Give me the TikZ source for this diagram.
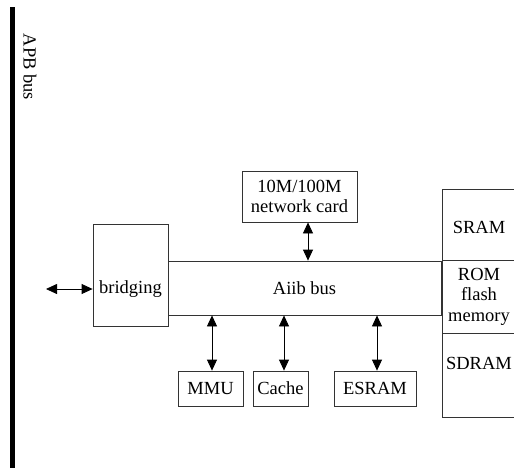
\documentclass[tikz,border=0pt]{standalone}
\usepackage{fontspec}
\setmainfont{Liberation Serif}
\usetikzlibrary{positioning, calc}
\usetikzlibrary{arrows.meta}
\begin{document}
\begin{tikzpicture}[x=1pt,y=-1pt,draw=black!100,font=\fontsize{18.5}{20.5}\selectfont]
	\useasboundingbox (0,0) rectangle (514,467);
	\tikzstyle{blk}=[draw=black!80,line width=0.8pt,inner sep=0pt,align=center]
	\tikzstyle{link}=[{Triangle[length=11pt,width=10pt]}-{Triangle[length=11pt,width=10pt]},line width=0.8pt]
	% APB bus
	\coordinate (apb-top) at (12,7);
	\coordinate (apb-bot) at (12,470);
	\draw[line width=5pt] (apb-top) -- (apb-bot);
	\node[rotate=-90] (apb-label) at (30,67) {APB bus};
	% bridging and bus
	\node[blk,minimum width=75pt,minimum height=102pt,label={[yshift=-14pt]center:bridging}] (bridge) at (130.5,275) {};
	\node[blk,minimum width=273pt,minimum height=54pt] (bus) at (304.5,288) {Aiib bus};
	\node[blk,minimum width=115pt,minimum height=51pt] (net) at (299.5,196.5) {10M/100M\\network card};
	% memory column
	\node[blk,minimum width=74pt,minimum height=71pt,label={[yshift=-3pt]center:SRAM}] (sram) at (479,224.5) {};
	\node[blk,minimum width=74pt,minimum height=73pt] (rom) at (479,296.5) {ROM\\flash\\memory};
	\node[blk,minimum width=74pt,minimum height=84pt,label={[yshift=12pt]center:SDRAM}] (sdram) at (479,375) {};
	% lower blocks
	\node[blk,minimum width=65pt,minimum height=35pt] (mmu) at (210.5,388.5) {MMU};
	\node[blk,minimum width=55pt,minimum height=35pt] (cache) at (280.5,388.5) {Cache};
	\node[blk,minimum width=82pt,minimum height=35pt] (esram) at (375,388.5) {ESRAM};
	% arrows
	\coordinate (left-end) at (46,289);
	\coordinate (x-net) at (308,0);
	\coordinate (x-mmu) at (212,0);
	\coordinate (x-cache) at (284,0);
	\coordinate (x-esram) at (377,0);
	\draw[link] (left-end) -- (left-end -| bridge.west);
	\draw[link] (x-net |- net.south) -- (x-net |- bus.north);
	\draw[link] (x-mmu |- bus.south) -- (x-mmu |- mmu.north);
	\draw[link] (x-cache |- bus.south) -- (x-cache |- cache.north);
	\draw[link] (x-esram |- bus.south) -- (x-esram |- esram.north);
\end{tikzpicture}
\end{document}
